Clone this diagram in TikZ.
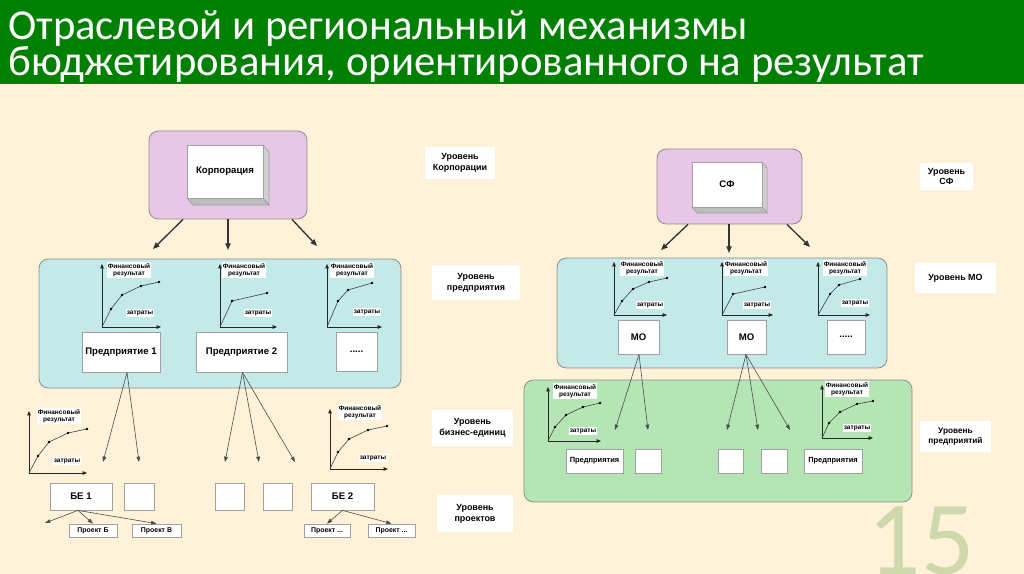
\documentclass[tikz,border=0pt]{standalone}
\usepackage{fontspec}
\setmainfont{Liberation Sans}
\newfontfamily\titlefont{Carlito}
\usetikzlibrary{arrows.meta,calc}
\definecolor{bgc}{HTML}{FFF2D8}
\definecolor{hdr}{HTML}{008000}
\definecolor{pinkc}{HTML}{E8C6E8}
\definecolor{cyanc}{HTML}{C3E9E9}
\definecolor{greenc}{HTML}{B5E5B5}
\definecolor{bordc}{HTML}{8C8C8C}
\definecolor{boxc}{HTML}{A0A0A0}
\definecolor{cubeR}{HTML}{D0D0D0}
\definecolor{cubeB}{HTML}{BDBDBD}
\definecolor{numc}{HTML}{CFD8AC}
\newcommand\bx[7]{\node[#6, minimum width={(#4-#2)*0.75pt}, minimum height={(#5-#3)*0.75pt}] (#1) at ({(#2+#4)/2},{(#3+#5)/2}) {#7};}
\newcommand\cube[8]{%
 \filldraw[fill=cubeR, draw=boxc, line width=0.5pt] (#4,#3) -- ({#4+#6},{#3+#7}) -- ({#4+#6},{#5+#7}) -- (#4,#5) -- cycle;
 \filldraw[fill=cubeB, draw=boxc, line width=0.5pt] (#2,#5) -- (#4,#5) -- ({#4+#6},{#5+#7}) -- ({#2+#6},{#5+#7}) -- cycle;
 \bx{#1}{#2}{#3}{#4}{#5}{wbox}{#8}}
\newcommand\chart[8]{%
 \draw[axis] (#2,#3) -- (#2,#4);
 \draw[axis] (#2,#3) -- (#5,#3);
 \draw[curve] (#2,#3) \foreach \px/\py in {#6}{ -- (\px,\py)};
 \foreach \px/\py in {#6}{\fill (\px,\py) circle[radius=1.1pt];}
 \node[glab] (#1f) at #7 {Финансовый\\результат};
 \node[glab] (#1z) at #8 {затраты};}
\begin{document}
\begin{tikzpicture}[x=0.75pt,y=-0.75pt,
 cont/.style={draw=bordc, line width=0.6pt, rounded corners=7pt},
 wbox/.style={draw=boxc, line width=0.6pt, fill=white, inner sep=0pt, font=\fontsize{7.2}{8.6}\selectfont\bfseries},
 ebox/.style={draw=boxc, line width=0.6pt, fill=white, inner sep=0pt},
 lvl/.style={fill=white, inner sep=0pt, align=center, font=\fontsize{6.7}{8.2}\selectfont\bfseries},
 glab/.style={fill=white, inner sep=0.8pt, align=center, font=\fontsize{4.9}{5.6}\selectfont\bfseries},
 pbox/.style={draw=boxc, line width=0.6pt, fill=white, inner sep=0pt, font=\fontsize{5.2}{6}\selectfont\bfseries},
 axis/.style={line width=0.5pt, draw=black!85, -{Triangle[length=3.2pt,width=2.6pt]}},
 curve/.style={line width=0.45pt, draw=black!75},
 con/.style={line width=0.45pt, draw=black!70, -{Triangle[length=4pt,width=2.8pt]}},
 big/.style={line width=1pt, draw=black!80, -{Triangle[length=5pt,width=4pt]}}]
\useasboundingbox (0,0) rectangle (1024,574);
\clip (0,0) rectangle (1024,574);
\fill[bgc] (0,0) rectangle (1024,574);
\fill[hdr] (0,0) rectangle (1024,84);
\node[anchor=base west, text=white, inner sep=0pt, align=left, font=\titlefont\fontsize{32}{27.5}\selectfont] (title) at (8,76) {Отраслевой и региональный механизмы\\бюджетирования, ориентированного на результат};
\node[anchor=base, text=numc, inner sep=0pt, font=\titlefont\fontsize{79}{80}\selectfont] (num) at (921,574) {15};

% ===== left =====
\bx{pinkL}{149}{131}{307}{219}{cont, fill=pinkc}{}
\cube{corp}{187}{145}{263}{198}{6}{7}{Корпорация}
\coordinate (a1) at (153,249); \coordinate (a2) at (228,250); \coordinate (a3) at (317,246);
\draw[big] ($(pinkL.south)+(-45,0)$) -- (a1);
\draw[big] ($(pinkL.south)+(0,0)$) -- (a2);
\draw[big] ($(pinkL.south)+(64,0)$) -- (a3);

\bx{cyanL}{39}{259}{401}{388}{cont, fill=cyanc}{}
\chart{g1}{102}{327}{264}{161}{111/309,122/295,141/286,159/282}{(129,270)}{(140,313)}
\chart{g2}{220}{327}{264}{277}{232/301,267/293}{(244,270)}{(258,313)}
\chart{g3}{327}{327}{264}{382}{338/301,348/290,372/283}{(352,270)}{(367,312)}
\bx{p1}{82}{332}{160}{372}{wbox}{Предприятие 1}
\bx{p2}{196}{332}{287}{372}{wbox}{Предприятие 2}
\bx{pd}{336}{332}{377}{371}{wbox}{.....}

\coordinate (b1) at (103,462); \coordinate (b2) at (139,462);
\coordinate (b3) at (225,462); \coordinate (b4) at (259,462); \coordinate (b5) at (295,462);
\draw[con] ($(p1.south)+(6,0)$) -- (b1);
\draw[con] ($(p1.south)+(6,0)$) -- (b2);
\draw[con] ($(p2.south)+(1,0)$) -- (b3);
\draw[con] ($(p2.south)+(1,0)$) -- (b4);
\draw[con] ($(p2.south)+(1,0)$) -- (b5);

\chart{g4}{29}{473}{411}{87}{38/456,49/442,68/433,87/429}{(59,416)}{(67,461)}
\chart{g5}{330}{469}{409}{388}{338/452,349/439,368/430,387/426}{(360,412)}{(373,458)}
\bx{be1}{50}{483}{112}{510}{wbox}{БЕ 1}
\bx{e1}{124}{483}{154}{510}{ebox}{}
\bx{e2}{215}{483}{244}{510}{ebox}{}
\bx{e3}{263}{483}{292}{510}{ebox}{}
\bx{be2}{311}{483}{374}{510}{wbox}{БЕ 2}
\bx{pb}{69}{524}{117}{537}{pbox}{Проект Б}
\bx{pv}{132}{524}{181}{537}{pbox}{Проект В}
\bx{pp1}{304}{524}{350}{537}{pbox}{Проект ...}
\bx{pp2}{368}{524}{415}{537}{pbox}{Проект ...}
\coordinate (c1) at (45,523);
\draw[con] ($(be1.south)+(-3,0)$) -- (c1);
\draw[con] ($(be1.south)+(-3,0)$) -- (pb.north);
\draw[con] ($(be1.south)+(-3,0)$) -- (pv.north);
\draw[con] ($(be2.south)+(0,0)$) -- (pp1.north);
\draw[con] ($(be2.south)+(0,0)$) -- (pp2.north);

\bx{lk}{425}{147}{495}{179}{lvl}{Уровень\\Корпорации}
\bx{lp}{432}{265}{520}{300}{lvl}{Уровень\\предприятия}
\bx{lb}{432}{410}{513}{446}{lvl}{Уровень\\бизнес-единиц}
\bx{lpr}{437}{495}{513}{532}{lvl}{Уровень\\проектов}

% ===== right =====
\bx{pinkR}{657}{149}{802}{224}{cont, fill=pinkc}{}
\cube{sf}{692}{162}{762}{207}{5}{6}{СФ}
\coordinate (d1) at (661,250); \coordinate (d2) at (729,253); \coordinate (d3) at (810,247);
\draw[big] ($(pinkR.south)+(-41.5,0)$) -- (d1);
\draw[big] ($(pinkR.south)+(-0.5,0)$) -- (d2);
\draw[big] ($(pinkR.south)+(57.5,0)$) -- (d3);

\bx{cyanR}{557}{258}{887}{368}{cont, fill=cyanc}{}
\chart{g6}{614}{315}{262}{667}{622/301,633/289,649/282,667/278}{(642,268)}{(650,305)}
\chart{g7}{722}{315}{262}{773}{733/294,765/287}{(746,268)}{(757,305)}
\chart{g8}{818}{315}{262}{870}{830/294,839/285,860/279}{(845,268)}{(855,303)}
\bx{mo1}{618}{320}{659}{354}{wbox}{МО}
\bx{mo2}{727}{320}{766}{354}{wbox}{МО}
\bx{mod}{827}{320}{865}{354}{wbox}{.....}

\bx{greenR}{524}{380}{912}{502}{cont, fill=greenc}{}
\chart{g9}{548}{441}{387}{601}{555/427,566/415,583/407,600/403}{(575,391)}{(583,431)}
\chart{g10}{822}{438}{385}{873}{829/423,840/412,857/404,873/401}{(847,389)}{(857,428)}
\bx{pr1}{566}{449}{623}{473}{pbox, font=\fontsize{5.6}{6.5}\selectfont\bfseries}{Предприятия}
\bx{e4}{635}{449}{661}{473}{ebox}{}
\bx{e5}{718}{449}{743}{473}{ebox}{}
\bx{e6}{761}{449}{787}{473}{ebox}{}
\bx{pr2}{804}{449}{862}{473}{pbox, font=\fontsize{5.6}{6.5}\selectfont\bfseries}{Предприятия}
\coordinate (f1) at (615,430); \coordinate (f2) at (648,430);
\coordinate (f3) at (727,430); \coordinate (f4) at (758,430); \coordinate (f5) at (790,430);
\draw[con] ($(mo1.south)+(0.5,0)$) -- (f1);
\draw[con] ($(mo1.south)+(0.5,0)$) -- (f2);
\draw[con] ($(mo2.south)+(-0.5,0)$) -- (f3);
\draw[con] ($(mo2.south)+(-0.5,0)$) -- (f4);
\draw[con] ($(mo2.south)+(-0.5,0)$) -- (f5);

\bx{lsf}{920}{163}{973}{190}{lvl}{Уровень\\СФ}
\bx{lmo}{915}{263}{996}{293}{lvl}{Уровень МО}
\bx{lpred}{920}{421}{991}{452}{lvl, font=\fontsize{6.2}{7.6}\selectfont\bfseries}{Уровень\\предприятий}
\end{tikzpicture}
\end{document}
